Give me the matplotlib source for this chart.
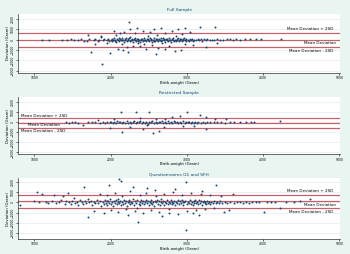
import matplotlib.pyplot as plt
import numpy as np

# Full sample: birth weight (g) and deviation (g)
full_bw = [1100, 1190, 1370, 1430, 1480, 1520, 1570, 1610, 1650, 1690,
           1720, 1750, 1780, 1800, 1830, 1850, 1870, 1887, 1900, 1920,
           1950, 1965, 1980, 1996, 2005, 2015, 2025, 2035, 2045, 2055,
           2065, 2075, 2085, 2095, 2105, 2115, 2125, 2135, 2145, 2155,
           2165, 2175, 2185, 2195, 2205, 2215, 2225, 2235, 2245, 2255,
           2265, 2275, 2285, 2295, 2305, 2315, 2325, 2335, 2345, 2355,
           2365, 2375, 2385, 2395, 2405, 2415, 2425, 2435, 2445, 2455,
           2465, 2475, 2485, 2495, 2505, 2515, 2525, 2535, 2545, 2555,
           2565, 2575, 2585, 2595, 2605, 2615, 2625, 2635, 2645, 2655,
           2665, 2675, 2685, 2695, 2705, 2715, 2725, 2735, 2745, 2755,
           2765, 2775, 2785, 2795, 2805, 2815, 2825, 2835, 2845, 2855,
           2865, 2875, 2885, 2895, 2905, 2915, 2925, 2935, 2945, 2955,
           2965, 2975, 2985, 2995, 3010, 3025, 3040, 3055, 3070, 3085,
           3100, 3120, 3140, 3160, 3180, 3200, 3220, 3245, 3270, 3300,
           3330, 3360, 3400, 3440, 3480, 3520, 3560, 3600, 3650, 3700,
           3760, 3830, 3900, 3970, 4230,
           2040, 2070, 2100, 2120, 2150, 2160, 2180, 2210, 2236, 2250,
           2260, 2290, 2320, 2350, 2360, 2380, 2420, 2440, 2470, 2490,
           2520, 2550, 2570, 2610, 2620, 2660, 2680, 2710, 2720, 2770,
           2800, 2840, 2860, 2880, 2920, 2940, 2970, 2980, 3040, 3080,
           3174, 3374, 1700, 1800, 1960, 2230, 2600, 3250, 3400, 1880]
full_dev = [20, -60, 20, -20, 110, 30, 0, 90, -140, -110,
            40, -1150, 20, 50, -130, 30, 250, -2340, -40, 40,
            -20, 60, -90, -1270, 30, -150, 110, -30, 200, -70,
            20, -180, 90, -40, 150, -110, 40, -20, 170, -60,
            10, -200, 80, -30, 130, -90, 60, -10, 190, -140,
            30, -50, 110, -170, 70, -20, 150, -80, 40, -120,
            90, 0, -190, 120, -40, 60, -100, 180, -60, 20,
            -160, 100, -30, 50, -130, 140, -10, 80, -180, 30,
            -70, 160, -110, 50, -20, 120, -150, 70, -40, 190,
            -90, 10, 130, -60, 40, -170, 100, -30, 60, -120,
            150, -50, 20, -190, 90, -10, 140, -80, 30, -140,
            70, -40, 180, -100, 50, -20, 110, -160, 40, -60,
            130, -30, 80, -120, 20, -70, 100, -40, 60, -110,
            30, -50, 90, -20, 40, -80, 70, -30, 50, -60,
            20, -40, 60, 10, -30, 40, 70, -10, 50, 30,
            80, 60, 40, 90, 60,
            900, 500, -850, 700, -400, -1000, 800, -700, 1680, 320,
            1000, -550, 700, 1100, -260, -600, 900, -420, -900, 350,
            800, -500, 1000, 450, -800, 1100, -350, 700, -900, -600,
            900, -1100, 400, 1050, -1030, 600, -400, 1150, 800, -500,
            1250, 1250, 450, -400, -350, -1200, -1350, -700, -300, 350]

# Restricted sample
restr_bw = [1420, 1460, 1500, 1540, 1580, 1640, 1700, 1760, 1800, 1830,
            1860, 1900, 1930, 1960,
            1990, 2010, 2030, 2050, 2070, 2090, 2110, 2130, 2150, 2170,
            2190, 2210, 2230, 2250, 2270, 2290, 2310, 2330, 2350, 2370,
            2390, 2410, 2430, 2450, 2470, 2490, 2510, 2530, 2550, 2570,
            2590, 2610, 2630, 2650, 2670, 2690, 2710, 2730, 2750, 2770,
            2790, 2810, 2830, 2850, 2870, 2890, 2910, 2930, 2950, 2970,
            2990, 3010, 3030, 3050, 3070, 3090, 3110, 3130, 3150, 3180,
            3210, 3240, 3270, 3300, 3350, 3400, 3450, 3500, 3560, 3620,
            3700, 3780, 3835, 3880, 4220,
            2132, 2330, 2510, 1988, 2153, 2552, 2630, 2430, 3008, 3174,
            3256, 3370, 3510, 2904, 3248, 2250, 2700, 2800, 2380, 2600,
            3100, 2950, 2050, 2480, 2720]
restr_dev = [20, -30, 40, 0, -60, -300, 30, -20, 60, 250,
             -40, 20, -80, 50,
             -20, 60, -100, 30, -50, 110, -10, 70, -120, 20,
             -60, 90, -30, 40, -110, 10, 80, -70, 30, -20,
             120, -90, 50, -40, 10, -130, 70, -20, 100, -60,
             30, -100, 60, -10, 90, -50, 20, -120, 80, -30,
             40, -80, 110, -10, 50, -100, 20, -40, 90, -70,
             30, -20, 60, -90, 10, -40, 70, -60, 20, -30,
             40, -50, 20, -20, 30, -10, 40, -30, 10, 20,
             -10, 30, 0, 20, 130,
             1000, 1050, 1000, -560, -960, -1110, -840, -700, 1000, 690,
             -650, 320, 300, 600, 470, -450, -500, 500, 400, 350,
             -400, -350, 300, -300, 280]

# Questionnaires G1 and SFH
quest_bw = [813, 1000, 1030, 1060, 1105, 1150, 1180, 1230, 1260, 1290,
            1320, 1350, 1380, 1400, 1420, 1440, 1460, 1480, 1500, 1520,
            1540, 1560, 1580, 1600, 1620, 1640, 1648, 1660, 1680, 1700,
            1710, 1720, 1740, 1760, 1780, 1800, 1820, 1840, 1860, 1880,
            1900, 1912, 1924, 1936, 1948, 1960, 1972, 1975, 1984, 1996,
            2008, 2020, 2032, 2044, 2056, 2068, 2080, 2092, 2104, 2116,
            2110, 2140, 2128, 2140, 2152, 2164, 2176, 2188, 2200, 2212,
            2224, 2236, 2248, 2260, 2272, 2284, 2290, 2296, 2308, 2320,
            2332, 2344, 2356, 2368, 2380, 2392, 2404, 2416, 2428, 2440,
            2452, 2464, 2476, 2488, 2500, 2512, 2524, 2536, 2548, 2560,
            2572, 2584, 2596, 2608, 2620, 2632, 2644, 2656, 2668, 2680,
            2692, 2704, 2716, 2728, 2740, 2752, 2764, 2776, 2788, 2800,
            2812, 2824, 2836, 2848, 2860, 2872, 2884, 2896, 2908, 2920,
            2932, 2944, 2956, 2968, 2980, 2990, 2990, 3004, 3016, 3028,
            3040, 3052, 3064, 3076, 3088, 3100, 3112, 3124, 3136, 3148,
            3157, 3160, 3172, 3184, 3196, 3208, 3220, 3232, 3244, 3256,
            3268, 3280, 3292, 3304, 3320, 3340, 3360, 3380, 3386, 3400,
            3420, 3440, 3460, 3490, 3500, 3530, 3560, 3600, 3620, 3660,
            3700, 3740, 3780, 3820, 3860, 3900, 3950, 4010, 4050, 4100,
            4150, 4227, 4300, 4400, 4480, 4620,
            1950, 2000, 2060, 2100, 2150, 2200, 2260, 2320, 2380, 2420,
            2470, 2530, 2580, 2640, 2700, 2760, 2820, 2880, 2940, 3000,
            3060, 3120, 3180, 3240, 3300, 3350, 3450, 3550, 1860, 1780,
            2230, 2480, 2680, 2850, 3080, 1920, 2600, 2350, 2770, 3200]
quest_dev = [-300, 100, 970, 80, 830, 60, -40, 120, 700, -80,
             50, 250, 600, -120, 100, 900, 20, -200, 150, 400,
             -60, 80, -300, 200, 30, -150, 1520, 100, -50, 350,
             -1450, -10, 180, -250, 70, -100, 250, -30, 120, -350,
             40, -180, 210, -60, 90, -280, 150, 1650, -20, 300,
             -140, 60, -310, 180, -40, 250, -200, 20, 330, -90,
             2250, 2130, 120, -260, 40, -120, 270, -30, 160, -340,
             80, -10, 220, -170, 50, -60, 1465, 300, -230, 110,
             -20, 190, -1900, -110, 60, -300, 240, -50, 130, -190,
             10, 280, -80, 170, -260, 70, -30, 230, -140, 40,
             -320, 150, -10, 260, -110, 90, -220, 30, 310, -60,
             140, -280, 50, -20, 200, -160, 80, -40, 250, -200,
             20, -90, 180, -300, 60, -30, 230, -130, 100, -50,
             270, -240, 40, -10, 160, 1975, -2720, -180, 70, -60,
             210, -120, 30, -260, 120, -20, 190, -90, 50, -170,
             -1210, 240, -40, 90, -210, 30, 150, -80, 60, -140,
             110, -30, 80, -110, 40, -60, 130, -20, 1650, 60,
             -90, 100, -40, -900, 50, -70, 20, 855, -30, 70,
             10, -50, 40, -20, 60, 0, 30, -900, 40, 10,
             50, -540, 30, 60, 100, 370,
             700, -700, 900, -900, 600, -600, 1100, -800, 700, -1000,
             900, -700, 1200, -900, 800, -600, 1000, -1100, 700, -800,
             900, -700, 800, -600, 700, -500, 600, -700, 800, -800,
             -1200, 1400, -1300, 1300, -1000, -1000, 650, -500, -1000, 1100]

titles = ['Full Sample', 'Restricted Sample', 'Questionnaires G1 and SFH']
means = [-20, -60, 100]
two_sd = [640, 470, 640]
ylims = [(-3200, 2500), (-3200, 2500), (-3600, 2400)]
yticks = [-3000, -2000, -1000, 0, 1000, 2000]
xticks = [1000, 2000, 3000, 4000, 5000]

navy = '#1a476f'
line_red = '#c8606a'
bg = '#e9f5f0'

fig = plt.figure(figsize=(3.5, 2.54), dpi=100)
fig.patch.set_facecolor(bg)

boxes = [[0.052, 0.713, 0.920, 0.232],
         [0.052, 0.392, 0.920, 0.226],
         [0.052, 0.058, 0.920, 0.242]]
data = [(full_bw, full_dev), (restr_bw, restr_dev), (quest_bw, quest_dev)]

for i in range(3):
    ax = fig.add_axes(boxes[i])
    ax.set_facecolor('white')
    bw, dev = data[i]
    ax.set_xlim(790, 5010)
    ax.set_ylim(*ylims[i])
    ax.set_yticks(yticks)
    ax.set_xticks(xticks)
    for yt in yticks:
        ax.axhline(yt, color='#e3ecec', lw=0.5, zorder=0)
    m, s = means[i], two_sd[i]
    for yv in [m - s, m, m + s]:
        ax.axhline(yv, color=line_red, lw=0.9, zorder=1)
    ax.scatter(bw, dev, s=2.0, color=navy, linewidths=0, zorder=3)

    if i == 1:
        ax.text(830, m + s + 250, 'Mean Deviation + 2SD', fontsize=3.0, ha='left', va='center')
        ax.text(920, m - 200, 'Mean Deviation', fontsize=3.0, ha='left', va='center')
        ax.text(830, m - s - 330, 'Mean Deviation - 2SD', fontsize=3.0, ha='left', va='center')
    else:
        ax.text(4920, m + s + 400, 'Mean Deviation + 2SD', fontsize=3.0, ha='right', va='center')
        ax.text(4960, m - 330, 'Mean Deviation', fontsize=3.0, ha='right', va='center')
        ax.text(4920, m - s - 400, 'Mean Deviation - 2SD', fontsize=3.0, ha='right', va='center')

    ax.set_title(titles[i], fontsize=3.2, color=navy, pad=2)
    ax.set_xlabel('Birth-weight (Gram)', fontsize=2.8, labelpad=0.5)
    ax.set_ylabel('Deviation (Gram)', fontsize=2.8, labelpad=0.5)
    ax.tick_params(axis='both', labelsize=2.2, length=1.5, width=0.4, pad=0.8)
    plt.setp(ax.get_yticklabels(), rotation=90, va='center')
    for side in ['top', 'right']:
        ax.spines[side].set_visible(False)
    for side in ['left', 'bottom']:
        ax.spines[side].set_linewidth(0.5)
        ax.spines[side].set_color('#333333')

fig.savefig('out.png', dpi=100, facecolor=bg)
